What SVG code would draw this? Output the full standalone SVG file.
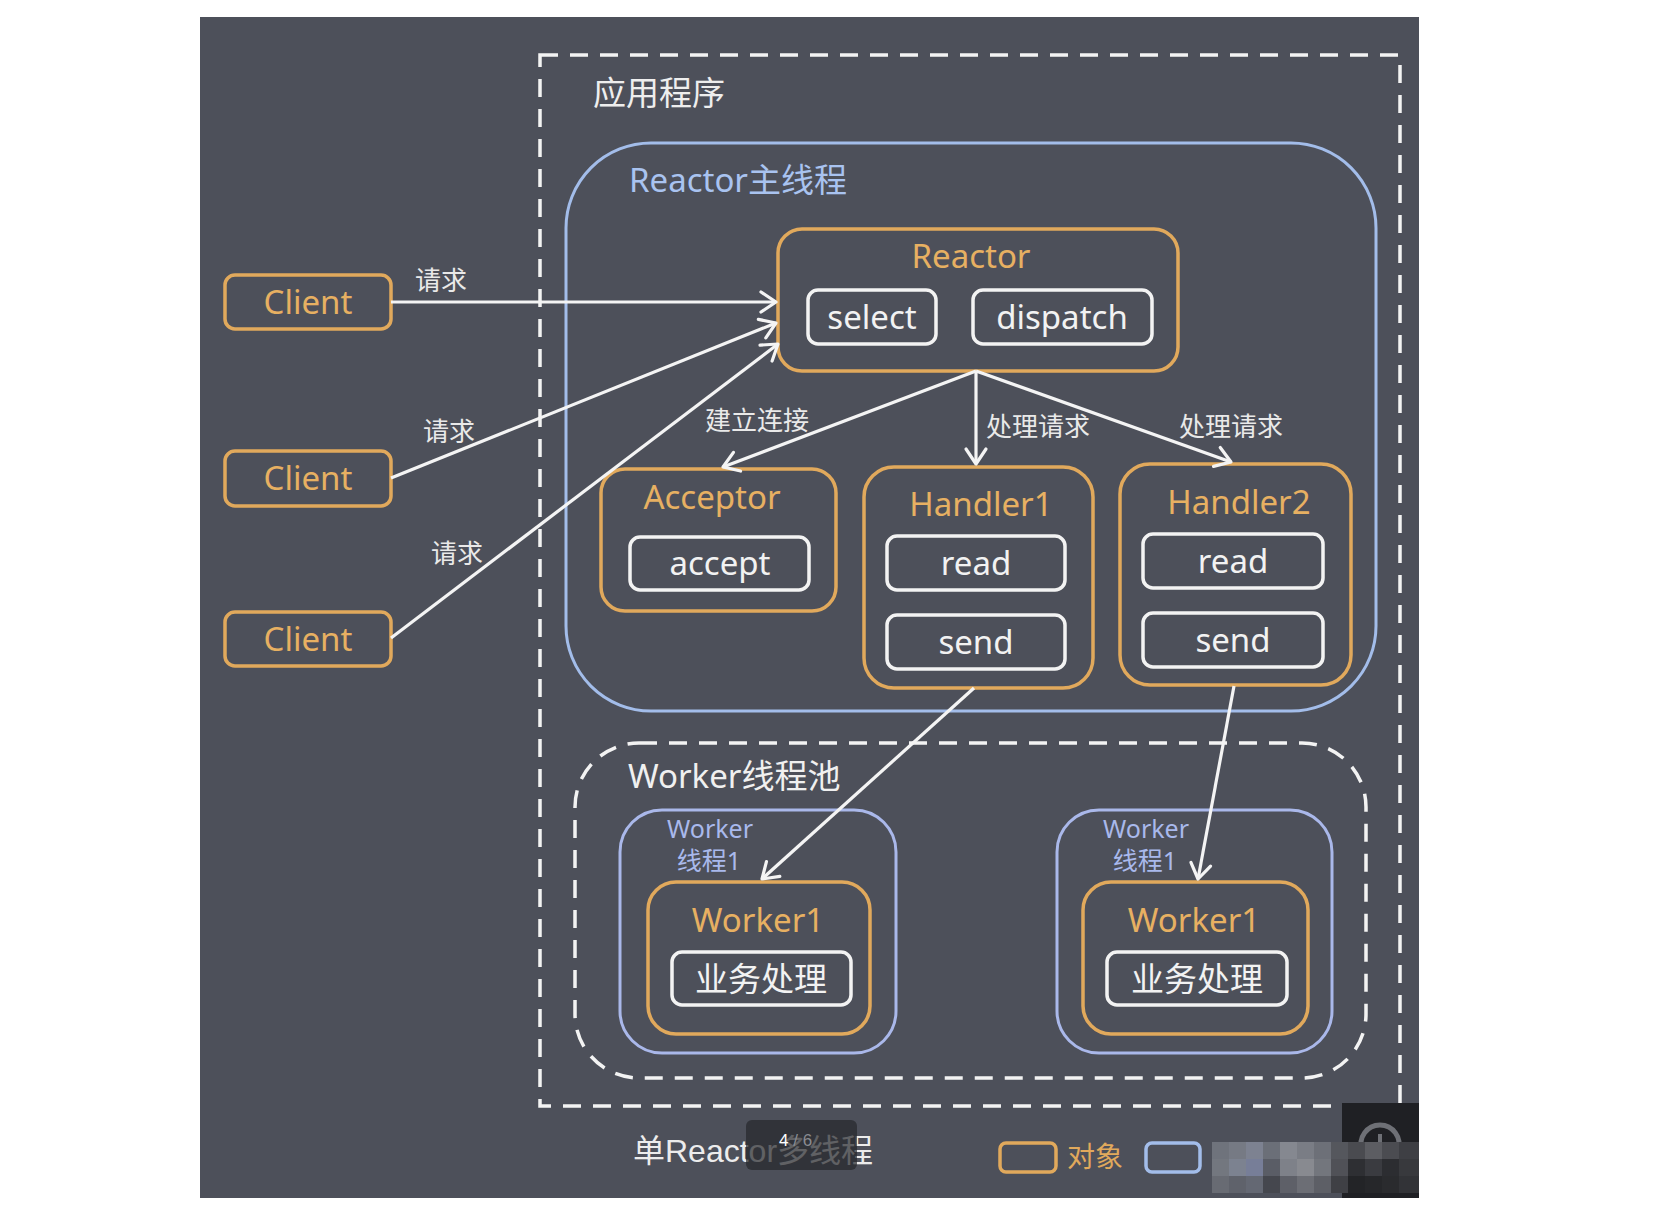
<svg xmlns="http://www.w3.org/2000/svg" width="1660" height="1215" viewBox="0 0 1660 1215">
<style>
text{font-family:"Noto Sans","Noto Sans CJK SC",sans-serif;}
.org{fill:none;stroke:#e1a95c;stroke-width:3.5;}
.blu{fill:none;stroke:#a3bdea;stroke-width:3;}
.wht{fill:none;stroke:#f3f3f3;stroke-width:3.5;}
.dash{fill:none;stroke:#f3f3f3;stroke-width:3.5;stroke-dasharray:18 12;}
.to{fill:#e7b062;font-size:33px;text-anchor:middle;}
.tw{fill:#f2f2f2;font-size:33px;text-anchor:middle;}
.lbl{fill:#e9e9e9;font-size:26px;}
.tb{fill:#a9c3f0;}
.wl{font-size:25px;text-anchor:middle;fill:#a9b9ec;}
.con{fill:none;stroke:#f4f4f4;stroke-width:3.2;marker-end:url(#arr);}
</style>
<defs>
<marker id="arr" markerUnits="userSpaceOnUse" markerWidth="24" markerHeight="26" viewBox="-18 -13 22 26" refX="0" refY="0" orient="auto">
<path d="M-15,-10 L0,0 L-15,10" fill="none" stroke="#f4f4f4" stroke-width="3.2" stroke-linecap="round" stroke-linejoin="round"/>
</marker>
</defs>
<rect x="0" y="0" width="1660" height="1215" fill="#ffffff"/>
<rect x="200" y="17" width="1219" height="1181" fill="#4d505a"/>

<g id="app">
<rect class="dash" x="540" y="55" width="860" height="1051"/>
<text x="593" y="105" style="fill:#eeeeee;font-size:33px">应用程序</text>
</g>

<g id="reactor-thread">
<rect class="blu" x="566" y="143" width="810" height="568" rx="85"/>
<text x="629" y="192" class="tb" style="font-size:33px">Reactor主线程</text>
</g>

<g id="reactor">
<rect class="org" x="778" y="229" width="400" height="142" rx="24"/>
<text x="971" y="268" class="to">Reactor</text>
<rect class="wht" x="808" y="290" width="128" height="54" rx="10"/>
<text x="872" y="329" class="tw">select</text>
<rect class="wht" x="973" y="290" width="179" height="54" rx="10"/>
<text x="1062" y="329" class="tw">dispatch</text>
</g>

<g id="client1">
<rect class="org" x="225" y="275" width="166" height="54" rx="10"/>
<text x="308" y="314" class="to">Client</text>
</g>
<g id="client2">
<rect class="org" x="225" y="451" width="166" height="55" rx="10"/>
<text x="308" y="490" class="to">Client</text>
</g>
<g id="client3">
<rect class="org" x="225" y="612" width="166" height="54" rx="10"/>
<text x="308" y="651" class="to">Client</text>
</g>

<g id="acceptor">
<rect class="org" x="601" y="469" width="235" height="142" rx="24"/>
<text x="712" y="509" class="to">Acceptor</text>
<rect class="wht" x="630" y="537" width="179" height="53" rx="10"/>
<text x="720" y="575" class="tw">accept</text>
</g>

<g id="handler1">
<rect class="org" x="864" y="467" width="229" height="221" rx="30"/>
<text x="981" y="516" class="to">Handler1</text>
<rect class="wht" x="887" y="536" width="178" height="54" rx="10"/>
<text x="976" y="575" class="tw">read</text>
<rect class="wht" x="887" y="615" width="178" height="54" rx="10"/>
<text x="976" y="654" class="tw">send</text>
</g>

<g id="handler2">
<rect class="org" x="1120" y="464" width="231" height="221" rx="30"/>
<text x="1239" y="514" class="to">Handler2</text>
<rect class="wht" x="1143" y="534" width="180" height="54" rx="10"/>
<text x="1233" y="573" class="tw">read</text>
<rect class="wht" x="1143" y="613" width="180" height="54" rx="10"/>
<text x="1233" y="652" class="tw">send</text>
</g>

<g id="worker-pool">
<rect class="dash" x="575" y="743" width="791" height="335" rx="64"/>
<text x="628" y="788" style="fill:#f0f0f0;font-size:33px">Worker线程池</text>
</g>

<g id="worker-thread1">
<rect class="blu" x="620" y="810" width="276" height="243" rx="42" style="stroke:#aab8ea"/>
<text x="710" y="838" class="wl">Worker</text>
<text x="709" y="870" class="wl">线程1</text>
</g>
<g id="worker1a">
<rect class="org" x="648" y="882" width="222" height="152" rx="28"/>
<text x="758" y="932" class="to">Worker1</text>
<rect class="wht" x="672" y="952" width="179" height="53" rx="10"/>
<text x="761" y="991" class="tw">业务处理</text>
</g>

<g id="worker-thread2">
<rect class="blu" x="1057" y="810" width="275" height="243" rx="42" style="stroke:#aab8ea"/>
<text x="1146" y="838" class="wl">Worker</text>
<text x="1145" y="870" class="wl">线程1</text>
</g>
<g id="worker1b">
<rect class="org" x="1083" y="882" width="225" height="152" rx="28"/>
<text x="1194" y="932" class="to">Worker1</text>
<rect class="wht" x="1107" y="952" width="180" height="53" rx="10"/>
<text x="1197" y="991" class="tw">业务处理</text>
</g>

<g id="connectors">
<line class="con" x1="391" y1="302" x2="776" y2="302"/>
<line class="con" x1="391" y1="478" x2="776" y2="323"/>
<line class="con" x1="391" y1="638" x2="778" y2="344"/>
<line class="con" x1="976" y1="371" x2="723" y2="467"/>
<line class="con" x1="976" y1="371" x2="976" y2="464"/>
<line class="con" x1="976" y1="371" x2="1231" y2="462"/>
<line class="con" x1="974" y1="688" x2="762" y2="879"/>
<line class="con" x1="1234" y1="686" x2="1198" y2="879"/>
<text x="415" y="290" class="lbl">请求</text>
<text x="423" y="441" class="lbl">请求</text>
<text x="431" y="563" class="lbl">请求</text>
<text x="705" y="430" class="lbl">建立连接</text>
<text x="986" y="436" class="lbl">处理请求</text>
<text x="1179" y="436" class="lbl">处理请求</text>
</g>

<g id="footer">
<text x="633" y="1162" style="font-family:'Liberation Sans','Noto Sans CJK SC',sans-serif;font-size:32px;fill:#ececec">单Reactor多线程</text>
<rect x="746" y="1120" width="111" height="50" rx="6" fill="#25262b" opacity="0.7"/>
<text x="779" y="1146" style="font-family:'Liberation Sans',sans-serif;font-size:17px;fill:#ffffff">4<tspan fill="#8a8c92"> / 6</tspan></text>
<rect x="1000" y="1143" width="56" height="29" rx="6" fill="none" stroke="#e1a95c" stroke-width="3.5"/>
<text x="1067" y="1167" style="font-size:28px;fill:#e1a95c">对象</text>
<rect x="1146" y="1143" width="54" height="29" rx="6" fill="none" stroke="#a3bdea" stroke-width="3.5"/>
<rect x="1342" y="1103" width="77" height="95" fill="#1f2024"/>
<path d="M1362,1150 A19,19 0 1 1 1398,1150" fill="none" stroke="#6e7076" stroke-width="5"/>
<line x1="1380" y1="1134" x2="1380" y2="1148" stroke="#6e7076" stroke-width="4"/>
<g id="pixelated">
<rect x="1212" y="1142" width="17" height="17" fill="#6f737c"/>
<rect x="1229" y="1142" width="17" height="17" fill="#767a84"/>
<rect x="1246" y="1142" width="17" height="17" fill="#7d8291"/>
<rect x="1263" y="1142" width="17" height="17" fill="#6b6f78"/>
<rect x="1280" y="1142" width="17" height="17" fill="#858890"/>
<rect x="1297" y="1142" width="17" height="17" fill="#7a7d85"/>
<rect x="1314" y="1142" width="17" height="17" fill="#6d7078"/>
<rect x="1331" y="1142" width="17" height="17" fill="#55575d"/>
<rect x="1348" y="1142" width="17" height="17" fill="#4a4b50"/>
<rect x="1365" y="1142" width="17" height="17" fill="#5c5d62"/>
<rect x="1382" y="1142" width="17" height="17" fill="#4b4c51"/>
<rect x="1399" y="1142" width="20" height="17" fill="#3e3f44"/>
<rect x="1212" y="1159" width="17" height="17" fill="#73777f"/>
<rect x="1229" y="1159" width="17" height="17" fill="#7c8290"/>
<rect x="1246" y="1159" width="17" height="17" fill="#777e98"/>
<rect x="1263" y="1159" width="17" height="17" fill="#5a5d66"/>
<rect x="1280" y="1159" width="17" height="17" fill="#7e8189"/>
<rect x="1297" y="1159" width="17" height="17" fill="#888a90"/>
<rect x="1314" y="1159" width="17" height="17" fill="#73767d"/>
<rect x="1331" y="1159" width="17" height="17" fill="#505157"/>
<rect x="1348" y="1159" width="17" height="17" fill="#2e2f33"/>
<rect x="1365" y="1159" width="17" height="17" fill="#3a3b40"/>
<rect x="1382" y="1159" width="17" height="17" fill="#2c2d31"/>
<rect x="1399" y="1159" width="20" height="17" fill="#38393d"/>
<rect x="1212" y="1176" width="17" height="17" fill="#686b73"/>
<rect x="1229" y="1176" width="17" height="17" fill="#5f626b"/>
<rect x="1246" y="1176" width="17" height="17" fill="#646873"/>
<rect x="1263" y="1176" width="17" height="17" fill="#45474e"/>
<rect x="1280" y="1176" width="17" height="17" fill="#5e6068"/>
<rect x="1297" y="1176" width="17" height="17" fill="#6c6e75"/>
<rect x="1314" y="1176" width="17" height="17" fill="#5d5f66"/>
<rect x="1331" y="1176" width="17" height="17" fill="#3f4045"/>
<rect x="1348" y="1176" width="17" height="17" fill="#232427"/>
<rect x="1365" y="1176" width="17" height="17" fill="#26272a"/>
<rect x="1382" y="1176" width="17" height="17" fill="#2a2b2e"/>
<rect x="1399" y="1176" width="20" height="17" fill="#323337"/>
</g>
</g>
</svg>
